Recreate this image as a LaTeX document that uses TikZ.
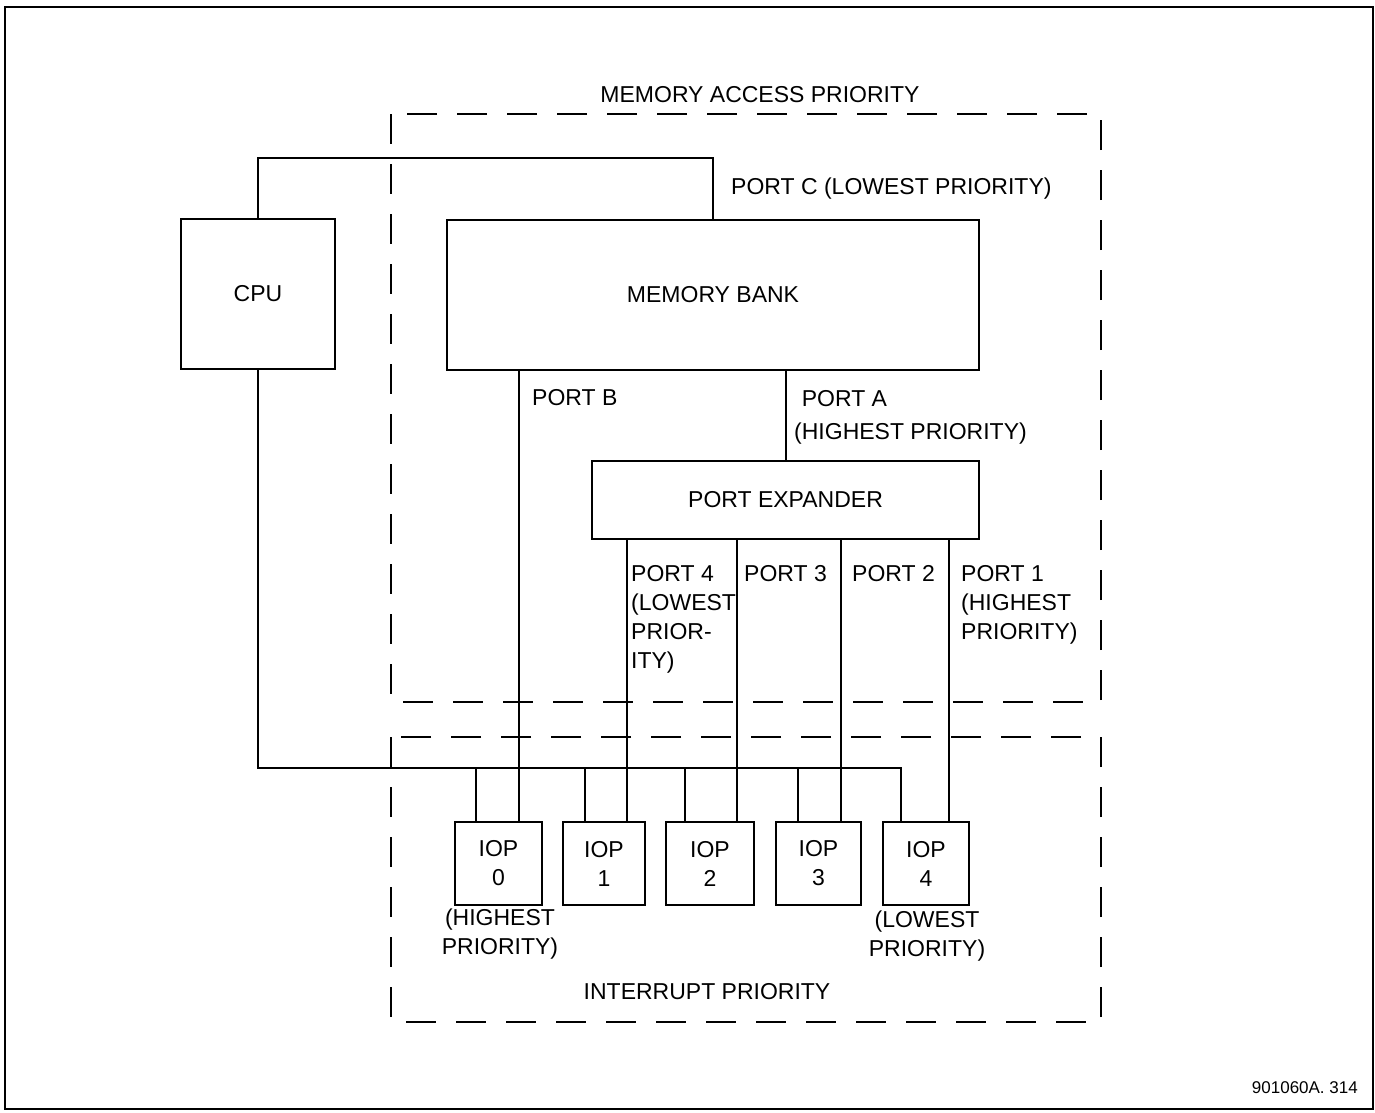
\documentclass[tikz,border=0pt]{standalone}
\usepackage{fontspec}
\setmainfont{Liberation Sans}
\newcommand{\fs}{\fontsize{23}{29}\selectfont}
\newcommand{\fsmall}{\fontsize{17}{20}\selectfont}
\begin{document}
\begin{tikzpicture}[x=1pt,y=-1pt,
  box/.style={draw, line width=2.8pt, inner sep=0pt, font=\fs, align=center},
  wire/.style={line width=2pt},
  prio/.style={draw, line width=2.8pt, dash pattern=on 30pt off 20pt},
  frame/.style={draw, line width=2.2pt},
  lbl/.style={font=\fs, inner sep=0pt, align=left},
  clbl/.style={font=\fs, inner sep=0pt, align=center}]
\useasboundingbox (0,0) rectangle (1375,1112);
\draw[frame] (5,7) rectangle (1373,1109);

% dashed priority regions
\draw[prio] (391,114) rectangle (1101,702);
\draw[prio] (391,737) rectangle (1101,1022);
\node[clbl] (mapl) at (760,95) {MEMORY ACCESS PRIORITY};
\node[clbl] (ipl) at (707,992) {INTERRUPT PRIORITY};

% main boxes
\node[box, minimum width=154pt, minimum height=150pt] (cpu) at (258,294) {CPU};
\node[box, minimum width=532pt, minimum height=150pt] (mem) at (713,295) {MEMORY BANK};
\node[box, minimum width=387pt, minimum height=78pt] (pexp) at (785.5,500) {PORT EXPANDER};

% IOPs
\node[box, minimum width=87pt, minimum height=83pt] (iop0) at (498.5,863.5) {IOP\\0};
\node[box, minimum width=82pt, minimum height=83pt] (iop1) at (604,863.5) {IOP\\1};
\node[box, minimum width=88pt, minimum height=83pt] (iop2) at (710,863.5) {IOP\\2};
\node[box, minimum width=85pt, minimum height=83pt] (iop3) at (818.5,863.5) {IOP\\3};
\node[box, minimum width=86pt, minimum height=83pt] (iop4) at (926,863.5) {IOP\\4};

% x positions of ports and bus taps
\coordinate (pB) at (519,0);
\coordinate (pA) at (786,0);
\coordinate (p4) at (627,0);
\coordinate (p3) at (737,0);
\coordinate (p2) at (841,0);
\coordinate (p1) at (949,0);
\coordinate (t0) at (476,0);
\coordinate (t1) at (585,0);
\coordinate (t2) at (685,0);
\coordinate (t3) at (798,0);
\coordinate (t4) at (901,0);
\coordinate (bus) at (0,768);
\coordinate (top) at (0,158);

% port C
\draw[wire] (cpu.north) |- (mem.north |- top) -- (mem.north);
% port B
\draw[wire] (mem.south -| pB) -- (iop0.north -| pB);
% port A
\draw[wire] (mem.south -| pA) -- (pexp.north -| pA);
% expander ports
\draw[wire] (pexp.south -| p4) -- (iop1.north -| p4);
\draw[wire] (pexp.south -| p3) -- (iop2.north -| p3);
\draw[wire] (pexp.south -| p2) -- (iop3.north -| p2);
\draw[wire] (pexp.south -| p1) -- (iop4.north -| p1);
% interrupt bus
\draw[wire] (cpu.south) |- (t4 |- bus) -- (iop4.north -| t4);
\draw[wire] (t0 |- bus) -- (iop0.north -| t0);
\draw[wire] (t1 |- bus) -- (iop1.north -| t1);
\draw[wire] (t2 |- bus) -- (iop2.north -| t2);
\draw[wire] (t3 |- bus) -- (iop3.north -| t3);

% labels
\node[lbl, anchor=west] (lc) at (731,189) {PORT C (LOWEST PRIORITY)};
\node[lbl, anchor=west] (lb) at (532,398) {PORT B};
\node[lbl, anchor=north west] (la) at (794,390) {\hphantom{(}PORT A\\[4pt](HIGHEST PRIORITY)};
\node[lbl, anchor=north west] (l4) at (631,565) {PORT 4\\(LOWEST\\PRIOR-\\ITY)};
\node[lbl, anchor=north west] (l3) at (744,565) {PORT 3};
\node[lbl, anchor=north west] (l2) at (852,565) {PORT 2};
\node[lbl, anchor=north west] (l1) at (961,565) {PORT 1\\(HIGHEST\\PRIORITY)};
\node[clbl] (hp) at (500,934) {(HIGHEST\\PRIORITY)};
\node[clbl] (lp) at (927,936) {(LOWEST\\PRIORITY)};
\node[font=\fsmall, inner sep=0pt, anchor=east] (code) at (1358,1088) {901060A. 314};
\end{tikzpicture}
\end{document}
